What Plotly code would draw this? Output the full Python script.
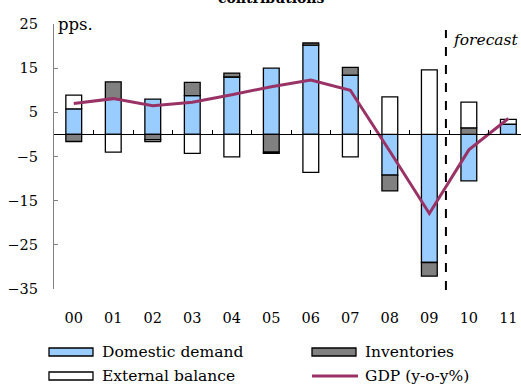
import plotly.graph_objects as go

years = ["00", "01", "02", "03", "04", "05", "06", "07", "08", "09", "10", "11"]
domestic_demand = [5.8, 8.0, 8.0, 8.8, 13.0, 15.0, 20.2, 13.4, -9.2, -29.0, -10.5, 2.3]
inventories = [-1.6, 3.9, -1.2, 3.0, 0.9, -4.0, 0.5, 1.8, -3.6, -3.1, 1.5, 0.0]
external_balance = [3.1, -4.0, -0.4, -4.3, -5.1, -0.3, -8.6, -5.1, 8.5, 14.6, 5.8, 1.1]
gdp = [7.0, 8.1, 6.5, 7.3, 9.0, 10.8, 12.3, 10.0, -3.8, -17.9, -3.5, 3.6]
y_ticks = [25, 15, 5, -5, -15, -25, -35]

W, H = 521, 385
L, R, T, B = 54, 0, 24, 96
PW, PH = W - L - R, H - T - B

def px(x):
    return (x - L) / PW

def py(y):
    return (H - B - y) / PH

FONT = "DejaVu Serif, serif"
xs = list(range(len(years)))
line_w = 1.3

fig = go.Figure()
fig.add_bar(x=xs, y=domestic_demand, name="Domestic demand", width=0.4,
            marker=dict(color="#99CCFF", line=dict(color="black", width=line_w)))
fig.add_bar(x=xs, y=inventories, name="Inventories", width=0.4,
            marker=dict(color="#808080", line=dict(color="black", width=line_w)))
fig.add_bar(x=xs, y=external_balance, name="External balance", width=0.4,
            marker=dict(color="white", line=dict(color="black", width=line_w)))
fig.add_scatter(x=xs, y=gdp, mode="lines", name="GDP (y-o-y%)",
                line=dict(color="#993366", width=3))
# invisible trace to host the zero-line axis
fig.add_scatter(x=[0], y=[0], xaxis="x2", mode="markers", marker=dict(opacity=0),
                showlegend=False, hoverinfo="skip")

x_range = [-0.5, 11.32]
fig.update_layout(
    width=W, height=H,
    margin=dict(l=L, r=R, t=T, b=B),
    barmode="relative",
    showlegend=False,
    plot_bgcolor="white", paper_bgcolor="white",
    font=dict(family=FONT, size=15, color="black"),
    xaxis=dict(range=x_range, tickmode="array", tickvals=xs, ticktext=years,
               showline=False, showgrid=False, zeroline=False, ticks="",
               ticklabelstandoff=18, tickfont=dict(size=14.5)),
    xaxis2=dict(range=x_range, overlaying="x", anchor="free", position=35 / 60,
                side="bottom", showline=True, linecolor="black", linewidth=1,
                ticks="inside", ticklen=4, tickcolor="black", tickwidth=1,
                tickvals=[i + 0.5 for i in range(11)], showticklabels=False,
                showgrid=False, zeroline=False),
    yaxis=dict(range=[-35, 25], tickmode="array", tickvals=y_ticks,
               showline=True, linecolor="#808080", linewidth=1.3,
               ticks="inside", ticklen=4, tickcolor="#808080", tickwidth=1.3,
               showgrid=False, zeroline=False, ticklabelstandoff=12,
               tickfont=dict(size=14.5)),
)

shapes = []
annotations = []
# forecast separator
shapes.append(dict(type="line", xref="x", yref="paper", x0=9.42, x1=9.42,
                   y0=py(290), y1=py(30), line=dict(color="black", width=2, dash="dash")))
annotations.append(dict(text="<i>forecast</i>", xref="paper", yref="paper",
                        x=px(451), y=py(40), xanchor="left", yanchor="middle",
                        showarrow=False, font=dict(size=15.5)))
annotations.append(dict(text="pps.", xref="paper", yref="paper",
                        x=px(56), y=py(24), xanchor="left", yanchor="middle",
                        showarrow=False, font=dict(size=16.5)))
# title (cut off at the top)
annotations.append(dict(text="<b>contributions</b>", xref="paper", yref="paper",
                        x=px(271), y=py(8), xanchor="center", yanchor="bottom",
                        showarrow=False, font=dict(size=14)))

# custom legend
legend_items = [
    ("Domestic demand", "bar", "#99CCFF", 49, 352),
    ("Inventories", "bar", "#808080", 312, 352),
    ("External balance", "bar", "white", 49, 376),
    ("GDP (y-o-y%)", "line", "#993366", 312, 376),
]
for name, kind, color, x0, yc in legend_items:
    if kind == "bar":
        shapes.append(dict(type="rect", xref="paper", yref="paper",
                           x0=px(x0), x1=px(x0 + 44), y0=py(yc + 4), y1=py(yc - 4),
                           fillcolor=color, line=dict(color="black", width=1.3)))
    else:
        shapes.append(dict(type="line", xref="paper", yref="paper",
                           x0=px(x0), x1=px(x0 + 46), y0=py(yc), y1=py(yc),
                           line=dict(color=color, width=3)))
    annotations.append(dict(text=name, xref="paper", yref="paper",
                            x=px(x0 + 51), y=py(yc), xanchor="left", yanchor="middle",
                            showarrow=False, font=dict(size=15.5)))

fig.update_layout(shapes=shapes, annotations=annotations)
fig.write_html("out.html", config={"displayModeBar": False},
               post_script="document.body.style.margin='0';document.body.style.overflow='hidden';")
